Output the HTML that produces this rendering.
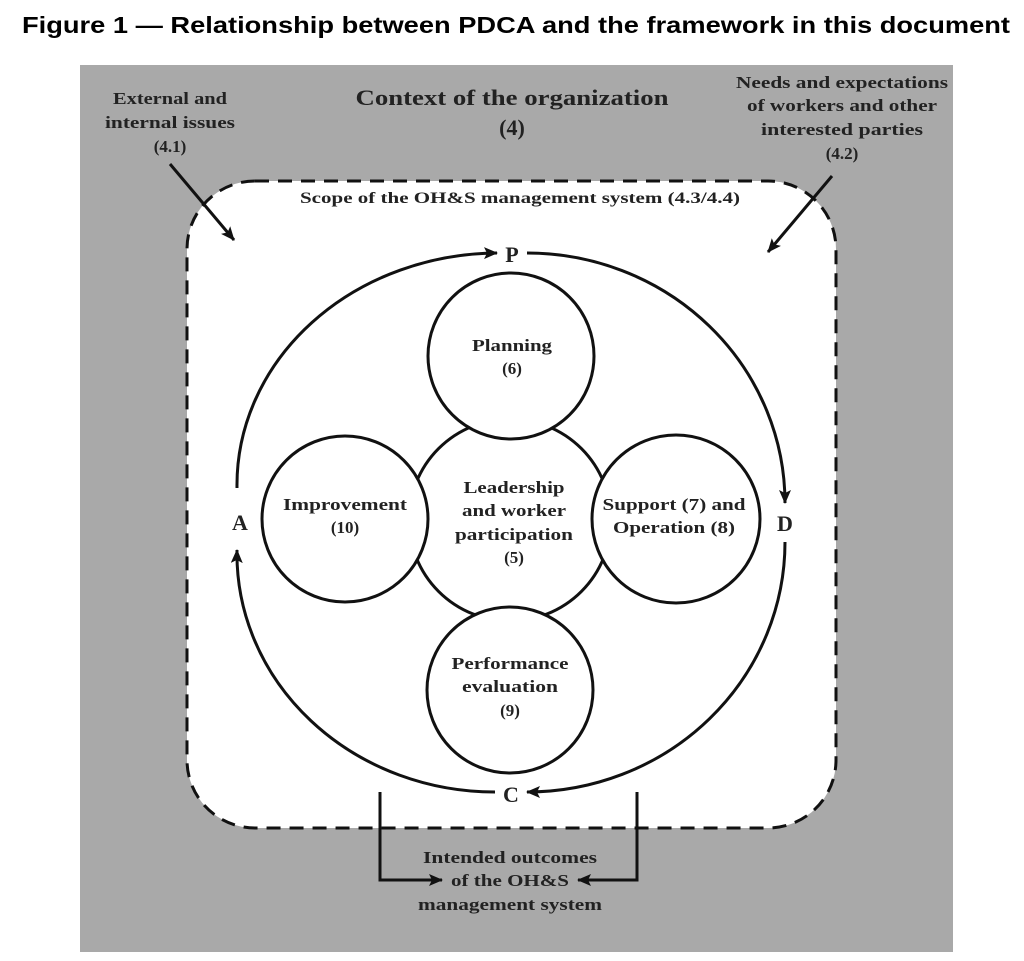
<!DOCTYPE html>
<html><head><meta charset="utf-8"><style>
html,body{margin:0;padding:0;background:#fff;}
body{width:1024px;height:961px;overflow:hidden;}
svg{display:block}
.t{font-family:"Liberation Serif",serif;font-weight:bold;fill:#222;}
</style></head><body>
<svg width="1024" height="961" viewBox="0 0 1024 961" xmlns="http://www.w3.org/2000/svg">
<defs>
<marker id="ah2" markerWidth="14" markerHeight="12" refX="13" refY="6" orient="auto" markerUnits="userSpaceOnUse">
<path d="M0,0 L14,6 L0,12 L3,6 Z" fill="#111"/></marker>
</defs>
<text x="22" y="33" font-family="Liberation Sans,sans-serif" font-weight="bold" font-size="23" fill="#000" textLength="988" lengthAdjust="spacingAndGlyphs">Figure 1 — Relationship between PDCA and the framework in this document</text>
<rect x="80" y="65" width="873" height="887" fill="#a9a9a9"/>
<rect x="187" y="181" width="649" height="647" rx="68" ry="68" fill="#fff" stroke="#111" stroke-width="3" stroke-dasharray="14,9"/>
<g class="t" text-anchor="middle" lengthAdjust="spacingAndGlyphs">
<text x="512" y="105" font-size="22" textLength="313" lengthAdjust="spacingAndGlyphs">Context of the organization</text>
<text x="512" y="135" font-size="22">(4)</text>
<text x="170" y="104" font-size="17" textLength="114" lengthAdjust="spacingAndGlyphs">External and</text>
<text x="170" y="128" font-size="17" textLength="130" lengthAdjust="spacingAndGlyphs">internal issues</text>
<text x="170" y="152" font-size="17">(4.1)</text>
<text x="842" y="88" font-size="17" textLength="212" lengthAdjust="spacingAndGlyphs">Needs and expectations</text>
<text x="842" y="111" font-size="17" textLength="190" lengthAdjust="spacingAndGlyphs">of workers and other</text>
<text x="842" y="135" font-size="17" textLength="162" lengthAdjust="spacingAndGlyphs">interested parties</text>
<text x="842" y="159" font-size="17">(4.2)</text>
<text x="520" y="203" font-size="16" textLength="440" lengthAdjust="spacingAndGlyphs">Scope of the OH&amp;S management system (4.3/4.4)</text>
<text x="510" y="863" font-size="17" textLength="174" lengthAdjust="spacingAndGlyphs">Intended outcomes</text>
<text x="510" y="886" font-size="17" textLength="118" lengthAdjust="spacingAndGlyphs">of the OH&amp;S</text>
<text x="510" y="910" font-size="17" textLength="184" lengthAdjust="spacingAndGlyphs">management system</text>
</g>
<g stroke="#111" stroke-width="3" fill="none">
<line x1="170" y1="164" x2="234" y2="240" marker-end="url(#ah2)"/>
<line x1="832" y1="176" x2="768" y2="252" marker-end="url(#ah2)"/>
<path d="M380,792 V880 H442" marker-end="url(#ah2)"/>
<path d="M637,792 V880 H578" marker-end="url(#ah2)"/>
<path d="M237,488 A262,232 0 0 1 497,253" marker-end="url(#ah2)"/>
<path d="M527,253 A258,250 0 0 1 785,503" marker-end="url(#ah2)"/>
<path d="M785,542 A258,250 0 0 1 527,792" marker-end="url(#ah2)"/>
<path d="M495,792 A258,238 0 0 1 237,550" marker-end="url(#ah2)"/>
</g>
<g class="t" text-anchor="middle" font-size="22">
<text x="512" y="262">P</text>
<text x="240" y="530">A</text>
<text x="785" y="531">D</text>
<text x="511" y="802">C</text>
</g>
<g fill="#fff" stroke="#111" stroke-width="3">
<circle cx="510" cy="520" r="101"/>
<circle cx="511" cy="356" r="83"/>
<circle cx="345" cy="519" r="83"/>
<circle cx="676" cy="519" r="84"/>
<circle cx="510" cy="690" r="83"/>
</g>
<g class="t" text-anchor="middle" font-size="17">
<text x="512" y="351" textLength="80" lengthAdjust="spacingAndGlyphs">Planning</text>
<text x="512" y="374">(6)</text>
<text x="345" y="510" textLength="124" lengthAdjust="spacingAndGlyphs">Improvement</text>
<text x="345" y="533">(10)</text>
<text x="674" y="510" textLength="143" lengthAdjust="spacingAndGlyphs">Support (7) and</text>
<text x="674" y="533" textLength="122" lengthAdjust="spacingAndGlyphs">Operation (8)</text>
<text x="514" y="493" textLength="101" lengthAdjust="spacingAndGlyphs">Leadership</text>
<text x="514" y="516" textLength="104" lengthAdjust="spacingAndGlyphs">and worker</text>
<text x="514" y="540" textLength="118" lengthAdjust="spacingAndGlyphs">participation</text>
<text x="514" y="563">(5)</text>
<text x="510" y="669" textLength="117" lengthAdjust="spacingAndGlyphs">Performance</text>
<text x="510" y="692" textLength="96" lengthAdjust="spacingAndGlyphs">evaluation</text>
<text x="510" y="716">(9)</text>
</g>
</svg>
</body></html>
